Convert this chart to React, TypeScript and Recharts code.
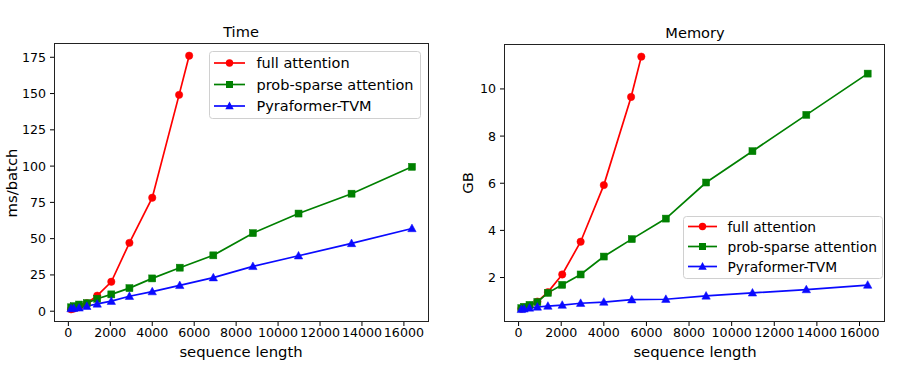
import React from 'react';
import { LineChart, Line, XAxis, YAxis } from 'recharts';

const seqLen = [128, 256, 512, 880, 1376, 2048, 2912, 4000, 5312, 6912, 8800, 10976, 13504, 16384];
const fullSeqLen = [128, 256, 512, 880, 1376, 2048, 2912, 4000, 5280, 5760];

const fullTime = [1.3, 1.8, 2.8, 5.5, 10.7, 20.3, 47.1, 78.2, 149.1, 176.1];
const probTime = [2.7, 3.5, 4.6, 5.6, 8.6, 11.6, 15.9, 22.6, 30.0, 38.5, 53.8, 67.3, 81.0, 99.5];
const pyraTime = [1.8, 2.0, 2.3, 3.4, 5.0, 6.9, 10.3, 13.5, 17.8, 23.1, 30.9, 38.2, 46.7, 57.0];

const fullMem = [0.68, 0.72, 0.8, 0.98, 1.38, 2.13, 3.52, 5.92, 9.66, 11.37];
const probMem = [0.7, 0.76, 0.84, 0.96, 1.35, 1.69, 2.13, 2.89, 3.63, 4.5, 6.03, 7.36, 8.9, 10.65];
const pyraMem = [0.65, 0.67, 0.71, 0.75, 0.79, 0.83, 0.91, 0.96, 1.06, 1.08, 1.22, 1.35, 1.49, 1.68];

const xTicks = [0, 2000, 4000, 6000, 8000, 10000, 12000, 14000, 16000];
const timeTicks = [0, 25, 50, 75, 100, 125, 150, 175];
const memTicks = [2, 4, 6, 8, 10];

const seriesNames = ['full attention', 'prob-sparse attention', 'Pyraformer-TVM'];
const RED = '#ff0000';
const GREEN = '#008000';
const BLUE = '#0a0aff';
const FONT = '"DejaVu Sans", Verdana, sans-serif';

const zip = (xs: number[], ys: number[]) => ys.map((y, i) => ({ x: xs[i], y }));

const pad = (vals: number[]): [number, number] => {
  const mn = Math.min(...vals);
  const mx = Math.max(...vals);
  const r = mx - mn;
  return [mn - 0.05 * r, mx + 0.05 * r];
};

const circleDot = (color: string) => (p: any) => (
  <circle key={`c${p.index}`} cx={p.cx} cy={p.cy} r={3.7} fill={color} stroke={color} strokeWidth={0.5} />
);
const squareDot = (color: string) => (p: any) => (
  <rect key={`s${p.index}`} x={p.cx - 3.5} y={p.cy - 3.5} width={7} height={7} fill={color} stroke={color} strokeWidth={0.5} />
);
const triDot = (color: string) => (p: any) => (
  <polygon
    key={`t${p.index}`}
    points={`${p.cx},${p.cy - 4.4} ${p.cx - 4.2},${p.cy + 3.2} ${p.cx + 4.2},${p.cy + 3.2}`}
    fill={color}
    stroke={color}
    strokeWidth={0.5}
  />
);

const Legend = ({ left, top, width, height, fontSize, rowGap, lineX0, lineX1, textX, firstRow }: any) => {
  const colors = [RED, GREEN, BLUE];
  return (
    <svg style={{ position: 'absolute', left, top, overflow: 'visible' }} width={width} height={height}>
      <rect x={0.5} y={0.5} width={width - 1} height={height - 1} rx={3} ry={3} fill="rgba(255,255,255,0.8)" stroke="#d0d0d0" />
      {seriesNames.map((n, i) => {
        const y = firstRow + i * rowGap;
        const cx = (lineX0 + lineX1) / 2;
        const c = colors[i];
        return (
          <g key={n}>
            <line x1={lineX0} x2={lineX1} y1={y} y2={y} stroke={c} strokeWidth={1.7} />
            {i === 0 && <circle cx={cx} cy={y} r={3.7} fill={c} />}
            {i === 1 && <rect x={cx - 3.5} y={y - 3.5} width={7} height={7} fill={c} />}
            {i === 2 && <polygon points={`${cx},${y - 4.4} ${cx - 4.2},${y + 3.2} ${cx + 4.2},${y + 3.2}`} fill={c} />}
            <text x={textX} y={y} dominantBaseline="central" fontSize={fontSize} fontFamily={FONT} fill="#000">
              {n}
            </text>
          </g>
        );
      })}
    </svg>
  );
};

const txt = (s: string, left: number, top: number, size: number, rotate = false) => (
  <div
    style={{
      position: 'absolute',
      left,
      top,
      fontFamily: FONT,
      fontSize: size,
      color: '#000',
      whiteSpace: 'nowrap',
      transform: `translate(-50%, -50%)${rotate ? ' rotate(-90deg)' : ''}`,
      lineHeight: 1,
    }}
  >
    {s}
  </div>
);

const tickStyle = { fontSize: 12.6, fill: '#000', fontFamily: FONT };

const Panel = ({ width, plotLeft, plotTop, plotBottom, plotRight, yTicks, series }: any) => {
  const allX = [...seqLen, ...fullSeqLen];
  const allY = series.flatMap((s: any) => s.data.map((d: any) => d.y));
  const xd = pad(allX);
  const yd = pad(allY);
  const xAxisH = 30;
  return (
    <LineChart
      width={width}
      height={365}
      margin={{ top: plotTop, left: 0, right: width - plotRight, bottom: 365 - plotBottom - xAxisH }}
    >
      <XAxis
        dataKey="x"
        type="number"
        domain={xd}
        ticks={xTicks}
        allowDataOverflow
        axisLine={false}
        tickLine={{ stroke: '#000' }}
        tickSize={4}
        tickMargin={2}
        height={xAxisH}
        tick={tickStyle}
        interval={0}
      />
      <YAxis
        type="number"
        domain={yd}
        ticks={yTicks}
        allowDataOverflow
        axisLine={false}
        tickLine={{ stroke: '#000' }}
        tickSize={4}
        tickMargin={4}
        width={plotLeft}
        tick={tickStyle}
        interval={0}
      />
      {series.map((s: any) => (
        <Line
          key={s.name}
          data={s.data}
          dataKey="y"
          name={s.name}
          stroke={s.color}
          strokeWidth={1.7}
          dot={s.dot}
          activeDot={false}
          isAnimationActive={false}
        />
      ))}
    </LineChart>
  );
};

export default function App() {
  const timeSeries = [
    { name: seriesNames[0], data: zip(fullSeqLen, fullTime), color: RED, dot: circleDot(RED) },
    { name: seriesNames[1], data: zip(seqLen, probTime), color: GREEN, dot: squareDot(GREEN) },
    { name: seriesNames[2], data: zip(seqLen, pyraTime), color: BLUE, dot: triDot(BLUE) },
  ];
  const memSeries = [
    { name: seriesNames[0], data: zip(fullSeqLen, fullMem), color: RED, dot: circleDot(RED) },
    { name: seriesNames[1], data: zip(seqLen, probMem), color: GREEN, dot: squareDot(GREEN) },
    { name: seriesNames[2], data: zip(seqLen, pyraMem), color: BLUE, dot: triDot(BLUE) },
  ];
  return (
    <div style={{ position: 'absolute', left: 0, top: 0, width: 905, height: 365, background: '#fff', overflow: 'hidden' }}>
      <div style={{ position: 'absolute', left: 0, top: 0 }}>
        <Panel width={450} plotLeft={54} plotTop={43} plotBottom={322} plotRight={429} yTicks={timeTicks} series={timeSeries} />
      </div>
      <div style={{ position: 'absolute', left: 450, top: 0 }}>
        <Panel width={455} plotLeft={54} plotTop={44} plotBottom={322} plotRight={435} yTicks={memTicks} series={memSeries} />
      </div>
      <div style={{ position: 'absolute', left: 54, top: 43, width: 375, height: 279, border: '1px solid #222', boxSizing: 'border-box', pointerEvents: 'none' }} />
      <div style={{ position: 'absolute', left: 504, top: 44, width: 381, height: 278, border: '1px solid #222', boxSizing: 'border-box', pointerEvents: 'none' }} />
      {txt('Time', 241, 32, 14.6)}
      {txt('Memory', 695, 33, 14.6)}
      {txt('sequence length', 241, 352, 14.8)}
      {txt('sequence length', 695, 352, 14.8)}
      {txt('ms/batch', 12, 183, 14.8, true)}
      {txt('GB', 468, 183, 14.8, true)}
      <Legend left={209} top={51} width={212} height={68} fontSize={14.5} rowGap={21.5} lineX0={5} lineX1={36} textX={47.5} firstRow={12} />
      <Legend left={683} top={216} width={200} height={63} fontSize={13.8} rowGap={20} lineX0={5} lineX1={34} textX={44.5} firstRow={10.5} />
    </div>
  );
}
